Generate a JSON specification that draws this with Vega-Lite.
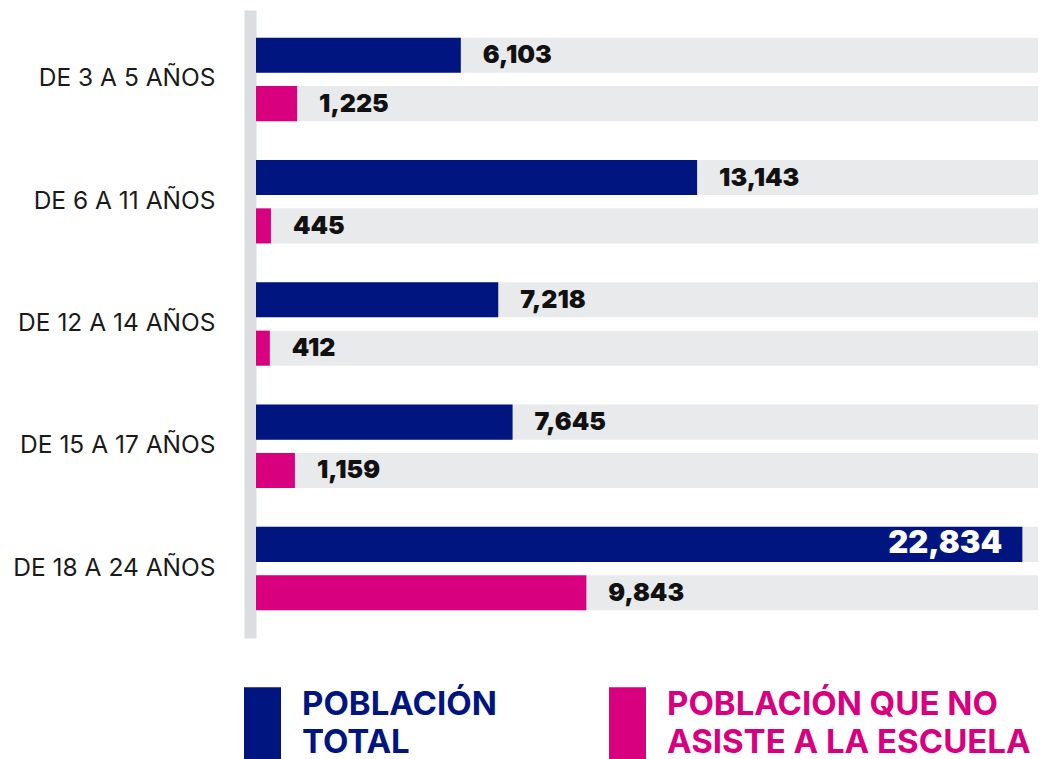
{
  "$schema": "https://vega.github.io/schema/vega-lite/v6.json",
  "autosize": {"type": "none"},
  "width": 782,
  "height": 628,
  "padding": {"left": 256, "top": 10, "right": 3, "bottom": 121},
  "background": "white",
  "config": {"view": {"stroke": null}, "font": "Inter"},
  "data": {
    "values": [
      {"grupo": "DE 3 A 5 AÑOS", "serie": "POBLACIÓN TOTAL", "valor": 6103},
      {"grupo": "DE 3 A 5 AÑOS", "serie": "POBLACIÓN QUE NO ASISTE A LA ESCUELA", "valor": 1225},
      {"grupo": "DE 6 A 11 AÑOS", "serie": "POBLACIÓN TOTAL", "valor": 13143},
      {"grupo": "DE 6 A 11 AÑOS", "serie": "POBLACIÓN QUE NO ASISTE A LA ESCUELA", "valor": 445},
      {"grupo": "DE 12 A 14 AÑOS", "serie": "POBLACIÓN TOTAL", "valor": 7218},
      {"grupo": "DE 12 A 14 AÑOS", "serie": "POBLACIÓN QUE NO ASISTE A LA ESCUELA", "valor": 412},
      {"grupo": "DE 15 A 17 AÑOS", "serie": "POBLACIÓN TOTAL", "valor": 7645},
      {"grupo": "DE 15 A 17 AÑOS", "serie": "POBLACIÓN QUE NO ASISTE A LA ESCUELA", "valor": 1159},
      {"grupo": "DE 18 A 24 AÑOS", "serie": "POBLACIÓN TOTAL", "valor": 22834},
      {"grupo": "DE 18 A 24 AÑOS", "serie": "POBLACIÓN QUE NO ASISTE A LA ESCUELA", "valor": 9843}
    ]
  },
  "encoding": {
    "y": {
      "field": "grupo", "type": "nominal",
      "sort": ["DE 3 A 5 AÑOS", "DE 6 A 11 AÑOS", "DE 12 A 14 AÑOS", "DE 15 A 17 AÑOS", "DE 18 A 24 AÑOS"],
      "scale": {"paddingInner": 0.318, "paddingOuter": 0.227},
      "axis": {
        "title": null, "ticks": false, "tickSize": 0, "domainColor": "#dcdde1", "domainWidth": 12,
        "offset": 6, "labelPadding": 35, "labelFont": "Inter", "labelFontSize": 24.5, "labelLimit": 0,
        "labelColor": "#1a1a1a", "grid": false
      }
    },
    "yOffset": {
      "field": "serie", "type": "nominal",
      "sort": ["POBLACIÓN TOTAL", "POBLACIÓN QUE NO ASISTE A LA ESCUELA"],
      "scale": {"paddingInner": 0.275, "paddingOuter": 0}
    }
  },
  "layer": [
    {
      "mark": {"type": "bar", "color": "#e9eaec"},
      "encoding": {
        "x": {"datum": 23300, "type": "quantitative", "scale": {"domain": [0, 23300], "nice": false}, "axis": null}
      }
    },
    {
      "mark": {"type": "bar"},
      "encoding": {
        "x": {"field": "valor", "type": "quantitative", "scale": {"domain": [0, 23300], "nice": false}, "axis": null},
        "color": {
          "field": "serie", "type": "nominal",
          "scale": {"domain": ["POBLACIÓN TOTAL", "POBLACIÓN QUE NO ASISTE A LA ESCUELA"], "range": ["#001580", "#d9007f"]},
          "legend": {
            "orient": "none", "legendX": -12, "legendY": 676, "direction": "horizontal",
            "title": null, "padding": 0,
            "symbolType": "M-1,-0.95H1V3.4H-1Z", "symbolSize": 1369, "symbolOpacity": 1,
            "symbolStrokeWidth": 0,
            "labelFont": "Inter", "labelFontSize": 33, "labelFontWeight": "bold", "labelOffset": 21,
            "labelLimit": 0, "columnPadding": 112,
            "labelExpr": "datum.label == 'POBLACIÓN TOTAL' ? ['POBLACIÓN', 'TOTAL'] : ['POBLACIÓN QUE NO', 'ASISTE A LA ESCUELA']",
            "encode": {
              "labels": {"update": {"fill": {"signal": "datum.value == 'POBLACIÓN TOTAL' ? '#001580' : '#d9007f'"}, "lineHeight": {"value": 38}}}
            }
          }
        }
      }
    },
    {
      "transform": [{"filter": "datum.valor < 20000"}],
      "mark": {"type": "text", "align": "left", "baseline": "middle", "dx": 22, "font": "Inter", "fontSize": 25, "fontWeight": 900, "color": "#111111"},
      "encoding": {
        "x": {"field": "valor", "type": "quantitative"},
        "text": {"field": "valor", "type": "quantitative", "format": ","}
      }
    },
    {
      "transform": [{"filter": "datum.valor >= 20000"}],
      "mark": {"type": "text", "align": "right", "baseline": "middle", "dx": -20, "font": "Inter", "fontSize": 31, "fontWeight": 900, "color": "#ffffff"},
      "encoding": {
        "x": {"field": "valor", "type": "quantitative"},
        "text": {"field": "valor", "type": "quantitative", "format": ","}
      }
    }
  ]
}
